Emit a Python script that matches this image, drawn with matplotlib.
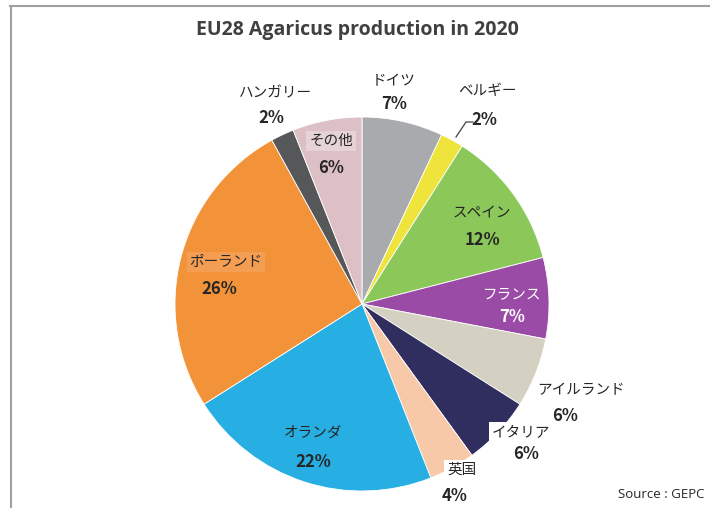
import matplotlib.pyplot as plt
import matplotlib.lines as mlines

plt.rcParams['font.family'] = ['Noto Sans CJK JP', 'DejaVu Sans']

# EU28 Agaricus production share by country, 2020 (clockwise from 12 o'clock)
countries = ['ドイツ', 'ベルギー', 'スペイン', 'フランス', 'アイルランド', 'イタリア',
             '英国', 'オランダ', 'ポーランド', 'ハンガリー', 'その他']
shares = [7, 2, 12, 7, 6, 6, 4, 22, 26, 2, 6]
colors = ['#a9aaae', '#eee43c', '#8cc75a', '#9a4ba6', '#d4d0c2', '#302e5f',
          '#f7c9a8', '#27aee2', '#f39339', '#555759', '#dcc0c5']

W, H = 710, 508
fig = plt.figure(figsize=(W / 100, H / 100), dpi=100)
ax = fig.add_axes([0, 0, 1, 1])

cx, cy, R = 362, H - 304, 187
wedges, _ = ax.pie(shares, colors=colors, startangle=90, counterclock=False,
                   center=(cx, cy), radius=R, frame=True,
                   wedgeprops=dict(edgecolor='white', linewidth=0.6))
ax.set_xlim(0, W)
ax.set_ylim(0, H)
ax.set_aspect('equal')
ax.axis('off')

# label placement (pixel coords, y measured from top) and styles
label_pos = {
    'ドイツ': (394, 81, 104),
    'ベルギー': (487, 91, 120),
    'スペイン': (482, 213, 240),
    'フランス': (512, 294, 317),
    'アイルランド': (581, 390, 416),
    'イタリア': (521, 432, 454),
    '英国': (462, 470, 496),
    'オランダ': (313, 433, 462),
    'ポーランド': (226, 262, 289),
    'ハンガリー': (275, 93, 118),
    'その他': (331, 141, 168),
}
pct_dx = {'ベルギー': -3, 'アイルランド': -16, 'イタリア': 5, '英国': -7,
          'ポーランド': -7, 'ハンガリー': -4}
boxes = {
    'その他': '#e6d3d6',
    'ポーランド': '#f39e53',
    'イタリア': 'white',
    '英国': 'white',
}
txt_color = '#262626'

for name, val in zip(countries, shares):
    x, y1, y2 = label_pos[name]
    col = 'white' if name == 'フランス' else txt_color
    bb = None
    if name in boxes:
        bb = dict(boxstyle='square,pad=0.2', fc=boxes[name], ec='none')
    ax.text(x, H - y1, name, ha='center', va='center', fontsize=10.5,
            color=col, bbox=bb)
    ax.text(x + pct_dx.get(name, 0), H - y2, f'{val}%', ha='center',
            va='center', fontsize=12, fontweight='bold', color=col)

# leader line for the small Belgian slice
ax.add_line(mlines.Line2D([456, 466, 473], [H - 137, H - 122, H - 122],
                          color='#404040', lw=0.9))

ax.text(357, H - 30, 'EU28 Agaricus production in 2020', ha='center',
        va='center', fontsize=14, fontweight='bold', color='#404040',
        family=['Open Sans', 'DejaVu Sans'])
ax.text(705, H - 494, 'Source : GEPC', ha='right', va='center',
        fontsize=9.5, color='#262626', family=['Open Sans', 'DejaVu Sans'])

# frame lines along the top and left
fig.add_artist(mlines.Line2D([10 / W, 1], [1 - 5.5 / H, 1 - 5.5 / H],
                             color='#a0a0a0', lw=1.5))
fig.add_artist(mlines.Line2D([10.5 / W, 10.5 / W], [0, 1 - 5.5 / H],
                             color='#a0a0a0', lw=1.5))

fig.savefig('out.png', dpi=100)
